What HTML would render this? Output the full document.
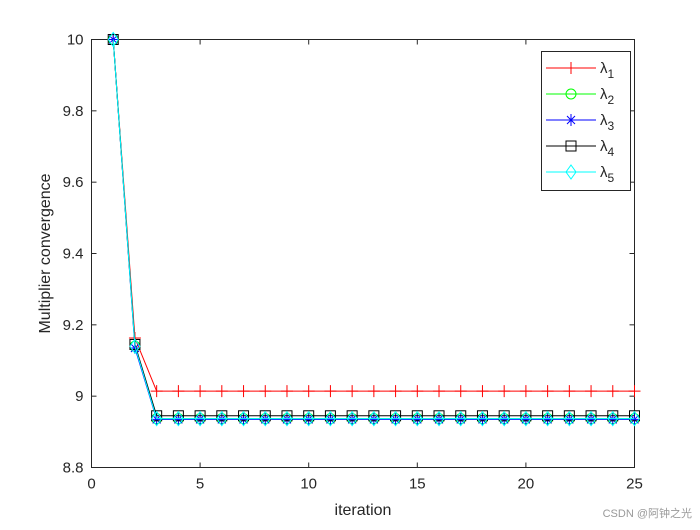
<!DOCTYPE html>
<html><head><meta charset="utf-8"><style>
body{margin:0;background:#fff;}
svg text{font-family:"Liberation Sans",Arial,sans-serif;}
</style></head><body>
<svg id="c" width="700" height="525" xmlns="http://www.w3.org/2000/svg"></svg>
<script>
const iterations=[1,2,3,4,5,6,7,8,9,10,11,12,13,14,15,16,17,18,19,20,21,22,23,24,25];
const lambda1=[10,9.163,9.014,9.014,9.014,9.014,9.014,9.014,9.014,9.014,9.014,9.014,9.014,9.014,9.014,9.014,9.014,9.014,9.014,9.014,9.014,9.014,9.014,9.014,9.014];
const lambda2=[10,9.14,8.937,8.937,8.937,8.937,8.937,8.937,8.937,8.937,8.937,8.937,8.937,8.937,8.937,8.937,8.937,8.937,8.937,8.937,8.937,8.937,8.937,8.937,8.937];
const lambda3=[10,9.135,8.935,8.935,8.935,8.935,8.935,8.935,8.935,8.935,8.935,8.935,8.935,8.935,8.935,8.935,8.935,8.935,8.935,8.935,8.935,8.935,8.935,8.935,8.935];
const lambda4=[10,9.145,8.945,8.945,8.945,8.945,8.945,8.945,8.945,8.945,8.945,8.945,8.945,8.945,8.945,8.945,8.945,8.945,8.945,8.945,8.945,8.945,8.945,8.945,8.945];
const lambda5=[10,9.14,8.937,8.937,8.937,8.937,8.937,8.937,8.937,8.937,8.937,8.937,8.937,8.937,8.937,8.937,8.937,8.937,8.937,8.937,8.937,8.937,8.937,8.937,8.937];
const xTicks=[0,5,10,15,20,25];
const yTicks=[8.8,9,9.2,9.4,9.6,9.8,10];
const yTickLabels=["8.8","9","9.2","9.4","9.6","9.8","10"];
const seriesNames=["1","2","3","4","5"];

const L=91.5,R=634.5,T=39.5,B=467.5;
const xs=v=>L+(v-0)/25*(R-L);
const ys=v=>B-(v-8.8)/1.2*(B-T);
const svg=document.getElementById('c');
const NS="http://www.w3.org/2000/svg";
function mk(tag,attrs,parent){const e=document.createElementNS(NS,tag);for(const k in attrs)e.setAttribute(k,attrs[k]);(parent||svg).appendChild(e);return e;}

const box=mk('rect',{x:L,y:T,width:R-L,height:B-T,fill:'#fff',stroke:'#262626','stroke-width':1});



xTicks.forEach(t=>{
  const x=xs(t);
  const l1=mk('line',{x1:x,y1:B,x2:x,y2:B-5,stroke:'#262626'});
  
  
  const l2=mk('line',{x1:x,y1:T,x2:x,y2:T+5,stroke:'#262626'});
  
  
  const tx=mk('text',{x:x,y:B+21,'text-anchor':'middle','font-size':15,fill:'#262626'});
  tx.textContent=String(t);
  
  
});
yTicks.forEach((t,i)=>{
  const y=ys(t);
  const l1=mk('line',{x1:L,y1:y,x2:L+5,y2:y,stroke:'#262626'});
  
  
  const l2=mk('line',{x1:R,y1:y,x2:R-5,y2:y,stroke:'#262626'});
  
  
  const tx=mk('text',{x:L-8,y:y+5,'text-anchor':'end','font-size':15,fill:'#262626'});
  tx.textContent=yTickLabels[i];
  
  
});
const xt=mk('text',{x:(L+R)/2,y:515,'text-anchor':'middle','font-size':16,fill:'#262626'});
xt.textContent='iteration';


const yt=mk('text',{x:0,y:0,'text-anchor':'middle','font-size':16,fill:'#262626',transform:`translate(50,${(T+B)/2}) rotate(-90)`});
yt.textContent='Multiplier convergence';



function marker(type,x,y,color,g){
  if(type==='plus'){mk('path',{d:`M${x-6},${y}H${x+6}M${x},${y-6}V${y+6}`,stroke:color,fill:'none'},g);}
  else if(type==='circle'){mk('circle',{cx:x,cy:y,r:5,stroke:color,fill:'none'},g);}
  else if(type==='star'){mk('path',{d:`M${x-5},${y}H${x+5}M${x},${y-6}V${y+6}M${x-4},${y-4}L${x+4},${y+4}M${x-4},${y+4}L${x+4},${y-4}`,stroke:color,fill:'none'},g);}
  else if(type==='square'){mk('rect',{x:x-5,y:y-5,width:10,height:10,stroke:color,fill:'none'},g);}
  else if(type==='diamond'){mk('path',{d:`M${x},${y-7}L${x+5},${y}L${x},${y+7}L${x-5},${y}Z`,stroke:color,fill:'none'},g);}
}
const series=[
  {data:lambda1,color:'#ff0000',m:'plus',name:'lambda-1'},
  {data:lambda2,color:'#00ff00',m:'circle',name:'lambda-2'},
  {data:lambda3,color:'#0000ff',m:'star',name:'lambda-3'},
  {data:lambda4,color:'#000000',m:'square',name:'lambda-4'},
  {data:lambda5,color:'#00ffff',m:'diamond',name:'lambda-5'}
];
series.forEach(s=>{
  const g=mk('g',{});
  
  
  const pts=s.data.map((v,i)=>xs(iterations[i])+','+ys(v)).join(' ');
  mk('polyline',{points:pts,fill:'none',stroke:s.color,'stroke-width':1},g);
  s.data.forEach((v,i)=>marker(s.m,xs(iterations[i]),ys(v),s.color,g));
});

const lg=mk('g',{});


mk('rect',{x:541.5,y:51.5,width:89,height:139,fill:'#fff',stroke:'#262626'},lg);
series.forEach((s,i)=>{
  const y=68+i*26;
  const e=mk('g',{},lg);
  
  
  mk('line',{x1:546,y1:y,x2:596,y2:y,stroke:s.color},e);
  marker(s.m,571,y,s.color,e);
  const t=mk('text',{x:600,y:y+5,'font-size':15,fill:'#262626'},e);
  t.textContent='λ';
  const sub=mk('tspan',{dy:5,'font-size':12},t);
  sub.textContent=seriesNames[i];
});
const wm=mk('text',{x:692,y:517,'text-anchor':'end','font-size':11,fill:'#999'});
wm.textContent='CSDN @阿钟之光';


wm.setAttribute('font-family','"Liberation Sans","Noto Sans CJK SC",sans-serif');
</script>
</body></html>
